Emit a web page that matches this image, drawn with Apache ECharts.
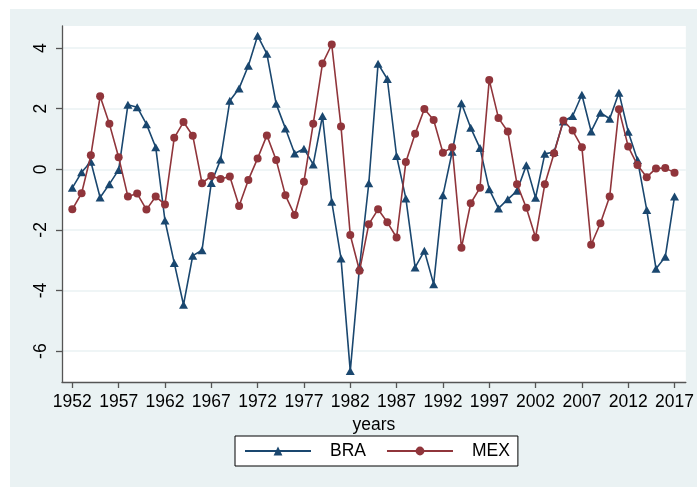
<!DOCTYPE html>
<html>
<head>
<meta charset="utf-8">
<script src="https://cdn.jsdelivr.net/npm/echarts@6/dist/echarts.min.js"></script>
<style>
html,body{margin:0;padding:0;background:#fff;}
#chart{width:697px;height:487px;}
</style>
</head>
<body>
<div id="chart"></div>
<script>
const years = [1952,1953,1954,1955,1956,1957,1958,1959,1960,1961,1962,1963,1964,1965,1966,1967,1968,1969,1970,1971,1972,1973,1974,1975,1976,1977,1978,1979,1980,1981,1982,1983,1984,1985,1986,1987,1988,1989,1990,1991,1992,1993,1994,1995,1996,1997,1998,1999,2000,2001,2002,2003,2004,2005,2006,2007,2008,2009,2010,2011,2012,2013,2014,2015,2016,2017];
const bra = [-0.61,-0.10,0.25,-0.93,-0.49,-0.02,2.13,2.05,1.49,0.73,-1.69,-3.09,-4.47,-2.85,-2.67,-0.45,0.32,2.26,2.67,3.42,4.41,3.81,2.16,1.35,0.52,0.68,0.16,1.76,-1.07,-2.94,-6.66,-3.22,-0.46,3.48,2.98,0.44,-0.96,-3.24,-2.69,-3.79,-0.86,0.58,2.18,1.37,0.70,-0.66,-1.29,-0.99,-0.71,0.13,-0.94,0.51,0.57,1.58,1.76,2.46,1.25,1.87,1.67,2.53,1.24,0.31,-1.34,-3.28,-2.89,-0.90];
const mex = [-1.32,-0.79,0.46,2.41,1.50,0.40,-0.90,-0.80,-1.33,-0.90,-1.16,1.04,1.56,1.11,-0.46,-0.22,-0.32,-0.24,-1.21,-0.35,0.36,1.12,0.31,-0.86,-1.51,-0.41,1.50,3.49,4.12,1.41,-2.17,-3.35,-1.81,-1.32,-1.75,-2.25,0.24,1.17,1.99,1.63,0.55,0.73,-2.59,-1.12,-0.61,2.95,1.69,1.25,-0.49,-1.27,-2.25,-0.49,0.53,1.61,1.28,0.73,-2.49,-1.78,-0.90,1.98,0.75,0.14,-0.26,0.03,0.04,-0.11];
const xTicks = [1952,1957,1962,1967,1972,1977,1982,1987,1992,1997,2002,2007,2012,2017];
const yTicks = [-6,-4,-2,0,2,4];
const seriesNames = ['BRA','MEX'];

const navy = '#1a476f', maroon = '#90353b', bg = '#eaf2f3';
const font = '"Liberation Sans", Arial, sans-serif';

const chart = echarts.init(document.getElementById('chart'), null, {renderer:'canvas'});
chart.setOption({
  animation: false,
  backgroundColor: '#fff',
  graphic: {
    elements: [{
      type: 'rect', z: -100, silent: true,
      shape: {x: 10, y: 9, width: 687, height: 478},
      style: {fill: bg}
    }]
  },
  grid: {
    left: 62, top: 26, right: 6, bottom: 105,
    show: true, backgroundColor: '#fff', borderWidth: 0
  },
  legend: {
    data: seriesNames,
    left: 235, top: 436,
    padding: [6, 8, 6, 9],
    backgroundColor: '#fff',
    borderColor: '#000', borderWidth: 1, borderRadius: 0,
    itemWidth: 66, itemHeight: 11, itemGap: 20,
    textStyle: {fontFamily: font, fontSize: 17.5, color: '#000', padding: [0,0,0,14]}
  },
  xAxis: {
    type: 'value', min: 1950.886, max: 2018.22,
    name: 'years', nameLocation: 'middle', nameGap: 24,
    nameTextStyle: {fontFamily: font, fontSize: 17.5, color: '#000'},
    axisLine: {show: true, onZero: false, lineStyle: {color: '#555', width: 1.3}},
    axisTick: {show: true, length: 6, customValues: xTicks, lineStyle: {color: '#555', width: 1.3}},
    axisLabel: {customValues: xTicks, margin: 11, fontFamily: font, fontSize: 17.5, color: '#000', formatter: v => String(v), showMinLabel: true, showMaxLabel: true, hideOverlap: false},
    splitLine: {show: false}
  },
  yAxis: {
    type: 'value', min: -7.02, max: 4.73,
    axisLine: {show: true, onZero: false, lineStyle: {color: '#555', width: 1.3}},
    axisTick: {show: true, length: 6, customValues: yTicks, lineStyle: {color: '#555', width: 1.3}},
    axisLabel: {customValues: yTicks, rotate: 90, margin: 12, fontFamily: font, fontSize: 17.5, color: '#000'},
    splitLine: {show: true, lineStyle: {color: bg, width: 1.5}}
  },
  series: [
    {
      name: 'BRA', type: 'line',
      data: years.map((y, i) => [y, bra[i]]),
      symbol: 'triangle', symbolSize: [9, 8],
      lineStyle: {color: navy, width: 1.6},
      itemStyle: {color: navy},
      z: 2
    },
    {
      name: 'MEX', type: 'line',
      data: years.map((y, i) => [y, mex[i]]),
      symbol: 'circle', symbolSize: 8,
      lineStyle: {color: maroon, width: 1.6},
      itemStyle: {color: maroon},
      z: 3
    }
  ]
});
</script>
</body>
</html>
